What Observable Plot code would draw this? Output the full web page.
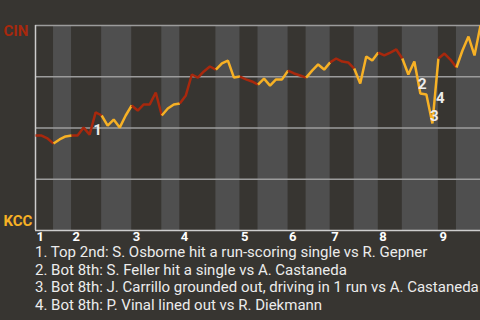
<!DOCTYPE html>
<html><head><meta charset="utf-8">
<script src="https://cdn.jsdelivr.net/npm/d3@7"></script>
<script src="https://cdn.jsdelivr.net/npm/@observablehq/plot@0.6"></script>
<style>
html,body{margin:0;padding:0;background:#373531;}
body{width:480px;height:320px;overflow:hidden;font-family:Roboto,sans-serif;}
#notes{color:#ececec;font-size:15px;line-height:17.5px;padding-left:35px;white-space:nowrap;}
</style></head><body>
<div id="chart"></div>
<div id="notes"></div>
<script>
// CIN win probability after each plate appearance (1 = CIN, 0 = KCC)
const winProb = [
  0.463,0.463,0.449,0.424,0.444,0.459,0.463,0.463,0.502,0.468,
  0.576,0.561,0.512,0.541,0.502,0.561,0.610,0.585,0.615,0.615,
  0.673,0.561,0.595,0.615,0.620,0.659,0.761,0.746,0.776,0.800,
  0.785,0.815,0.829,0.746,0.751,0.737,0.727,0.712,0.741,0.707,
  0.737,0.737,0.780,0.766,0.756,0.746,0.780,0.810,0.785,0.820,
  0.839,0.824,0.820,0.790,0.717,0.849,0.829,0.868,0.854,0.868,
  0.883,0.839,0.761,0.824,0.668,0.663,0.522,0.839,0.863,0.834,
  0.795,0.878,0.946,0.854,1.000
];
// plate-appearance index where each half-inning starts (last = end of game)
const halfStarts = [0,3,6,11,16,21,24,30,34,37,42,45,49,53,57,61,67,70,74];
const inningLabels = ["1","2","3","4","5","6","7","8","9"];
const teams = ["CIN","KCC"];
const teamColors = ["#a8280d","#f7b125"];
const eventIndex = [10,64,66,67];
const eventNotes = [
  "1. Top 2nd: S. Osborne hit a run-scoring single vs R. Gepner",
  "2. Bot 8th: S. Feller hit a single vs A. Castaneda",
  "3. Bot 8th: J. Carrillo grounded out, driving in 1 run vs A. Castaneda",
  "4. Bot 8th: P. Vinal lined out vs R. Diekmann"
];

const segs = [];
const bands = [];
for (let h = 0; h < halfStarts.length - 1; h++) {
  const team = teams[h % 2];
  bands.push({x1: halfStarts[h], x2: halfStarts[h + 1], team});
  for (let i = halfStarts[h]; i <= halfStarts[h + 1]; i++) segs.push({i, p: winProb[i], h, team});
}
const inningStarts = halfStarts.filter((d, k) => k % 2 === 0 && k < halfStarts.length - 1);
const events = eventIndex.map((idx, k) => ({idx, label: String(k + 1)}));

const chart = Plot.plot({
  width: 480, height: 244,
  marginTop: 25, marginBottom: 14, marginLeft: 35, marginRight: 0,
  style: {background: "transparent", fontFamily: "Roboto, sans-serif", overflow: "visible"},
  x: {domain: [0, halfStarts[halfStarts.length - 1]], axis: null},
  y: {domain: [0, 1], axis: null},
  color: {domain: teams, range: teamColors},
  marks: [
    Plot.rect(bands.filter(d => d.team === "KCC"), {x1: "x1", x2: "x2", fill: "#4f4f4f"}),
    Plot.ruleY([0.25, 0.5, 0.75, 1], {stroke: "#9c9c9c", strokeWidth: 1.5}),
    Plot.ruleY([0], {stroke: "#cdcdcd", strokeWidth: 1.5}),
    Plot.ruleX([0], {stroke: "#cdcdcd", strokeWidth: 1.5}),
    Plot.line(segs, {x: "i", y: "p", z: "h", stroke: "team", strokeWidth: 2.5, strokeLinejoin: "miter", strokeLinecap: "butt"}),
    Plot.text(events, {x: d => d.idx - 0.5, y: d => (winProb[d.idx - 1] + winProb[d.idx]) / 2, text: "label",
      dx: 5, dy: 7, fill: "#ececec", fontSize: 15, fontWeight: "bold"}),
    Plot.text(inningStarts, {x: d => d, text: (d, k) => inningLabels[k], frameAnchor: "bottom",
      lineAnchor: "top", textAnchor: "start", dx: 1, dy: 1.5, fill: "#ffffff", fontSize: 13, fontWeight: "bold"}),
    Plot.text([teams[0]], {text: d => d, frameAnchor: "top-left", textAnchor: "start", lineAnchor: "top",
      dx: -32, fill: teamColors[0], fontSize: 15, fontWeight: "bold"}),
    Plot.text([teams[1]], {text: d => d, frameAnchor: "bottom-left", textAnchor: "start", lineAnchor: "bottom",
      dx: -32, dy: -5, fill: teamColors[1], fontSize: 15, fontWeight: "bold"})
  ]
});
document.getElementById("chart").appendChild(chart);
const notes = document.getElementById("notes");
for (const n of eventNotes) {
  const div = document.createElement("div");
  div.textContent = n;
  notes.appendChild(div);
}
</script>
</body></html>
